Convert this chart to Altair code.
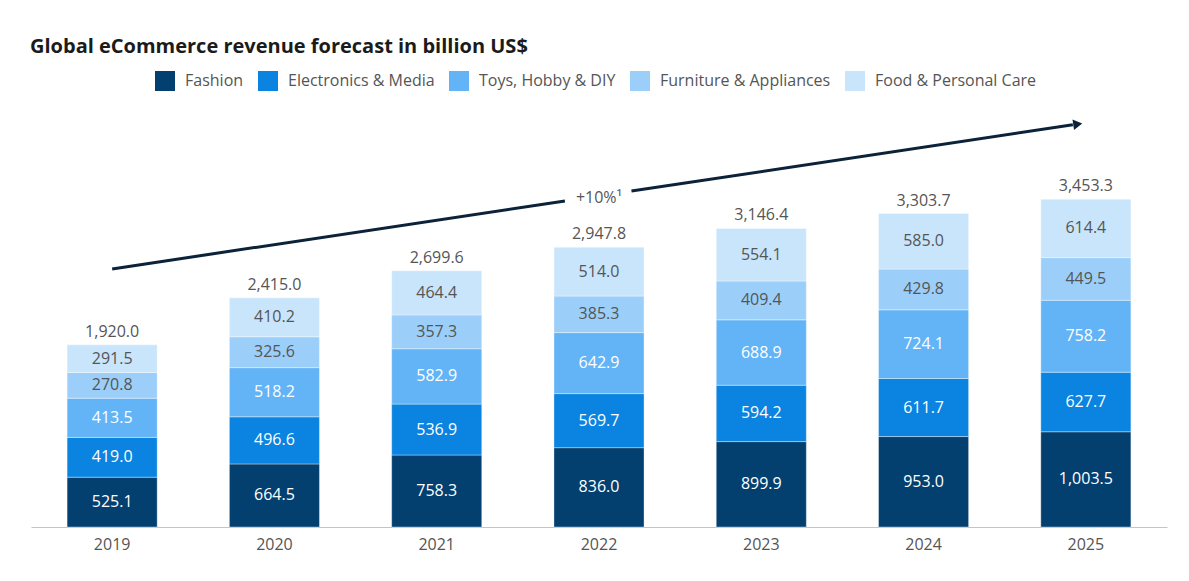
import altair as alt
import pandas as pd

years = ["2019", "2020", "2021", "2022", "2023", "2024", "2025"]
categories = ["Fashion", "Electronics & Media", "Toys, Hobby & DIY",
              "Furniture & Appliances", "Food & Personal Care"]
fashion = [525.1, 664.5, 758.3, 836.0, 899.9, 953.0, 1003.5]
electronics = [419.0, 496.6, 536.9, 569.7, 594.2, 611.7, 627.7]
toys = [413.5, 518.2, 582.9, 642.9, 688.9, 724.1, 758.2]
furniture = [270.8, 325.6, 357.3, 385.3, 409.4, 429.8, 449.5]
food = [291.5, 410.2, 464.4, 514.0, 554.1, 585.0, 614.4]
totals = [1920.0, 2415.0, 2699.6, 2947.8, 3146.4, 3303.7, 3453.3]
colors = ["#033f6f", "#0a84e0", "#63b4f6", "#9bcffa", "#c9e5fc"]
label_colors = ["white", "white", "white", "#555555", "#555555"]

# trend arrow (band-index units on x, value units on y)
arrow_x1 = [0.5, 3.70]
arrow_x2 = [3.29, 6.42]
arrow_y1 = [2720, 3540]
arrow_y2 = [3435, 4240]
arrow_tip_x = [6.45]
arrow_tip_y = [4246]
arrow_label = ["+10%\u00b9"]
arrow_label_x = [3.5]
arrow_label_y = [3465]

series = [fashion, electronics, toys, furniture, food]
rows = []
for yi, yr in enumerate(years):
    base = 0.0
    for ci, cat in enumerate(categories):
        v = series[ci][yi]
        rows.append({"year": yr, "cat": cat, "order": ci, "value": v,
                     "y0": base, "y1": base + v, "mid": base + v / 2,
                     "lc": label_colors[ci]})
        base += v
df = pd.DataFrame(rows)
tot = pd.DataFrame({"year": years, "total": totals})
arr = pd.DataFrame({"x1": arrow_x1, "x2": arrow_x2, "y1": arrow_y1, "y2": arrow_y2})
tip = pd.DataFrame({"x": arrow_tip_x, "y": arrow_tip_y})
lab = pd.DataFrame({"x": arrow_label_x, "y": arrow_label_y, "t": arrow_label})

FONT = "Open Sans"
yscale = alt.Scale(domain=[0, 4500], nice=False, zero=True)
xscale = alt.Scale(domain=years, paddingInner=0.445, paddingOuter=0.2225)

xenc = alt.X("year:N", scale=xscale, sort=years,
             axis=alt.Axis(title=None, labelAngle=0, ticks=False, domainColor="#c4c4c4",
                           domainWidth=1, labelFontSize=16, labelColor="#555555",
                           labelFont=FONT, labelPadding=9, grid=False))

bars = alt.Chart(df).mark_bar(stroke="white", strokeWidth=0.6, strokeOpacity=0.6).encode(
    x=xenc,
    y=alt.Y("y0:Q", scale=yscale, axis=None),
    y2="y1:Q",
    color=alt.Color("cat:N", sort=categories,
                    scale=alt.Scale(domain=categories, range=colors),
                    legend=alt.Legend(title=None, orient="none", direction="horizontal",
                                      legendX=124, legendY=-29, columns=5,
                                      symbolType="square", symbolSize=400,
                                      symbolStrokeWidth=0, symbolOpacity=1,
                                      labelFontSize=16, labelFont=FONT,
                                      labelColor="#555555", labelOffset=10,
                                      columnPadding=14, labelLimit=400)),
)

labels = alt.Chart(df).mark_text(fontSize=16, font=FONT, baseline="middle").encode(
    x=alt.X("year:N", scale=xscale, sort=years),
    y=alt.Y("mid:Q", scale=yscale),
    text=alt.Text("value:Q", format=",.1f"),
    color=alt.Color("lc:N", scale=None),
)

total_labels = alt.Chart(tot).mark_text(fontSize=16, font=FONT, baseline="bottom",
                                        color="#555555", dy=-5).encode(
    x=alt.X("year:N", scale=xscale, sort=years),
    y=alt.Y("total:Q", scale=yscale),
    text=alt.Text("total:Q", format=",.1f"),
)

base_layer = alt.layer(bars, labels, total_labels)

qx = alt.Scale(domain=[0, 7], nice=False, zero=False)
segs = alt.Chart(arr).mark_rule(color="#0b2239", strokeWidth=3).encode(
    x=alt.X("x1:Q", scale=qx, axis=None),
    x2="x2:Q",
    y=alt.Y("y1:Q", scale=yscale),
    y2="y2:Q",
)
head = alt.Chart(tip).mark_point(shape="triangle-right", filled=True, size=110,
                                 color="#0b2239", opacity=1, angle=351.5).encode(
    x=alt.X("x:Q", scale=qx, axis=None),
    y=alt.Y("y:Q", scale=yscale),
)
alabel = alt.Chart(lab).mark_text(fontSize=16, font=FONT, color="#555555",
                                  baseline="middle").encode(
    x=alt.X("x:Q", scale=qx, axis=None),
    y=alt.Y("y:Q", scale=yscale),
    text="t:N",
)
arrow_layer = alt.layer(segs, head, alabel)

chart = alt.layer(base_layer, arrow_layer).resolve_scale(x="independent").properties(
    width=1136, height=427,
    title=alt.TitleParams("Global eCommerce revenue forecast in billion US$",
                          anchor="start", font=FONT, fontSize=20, fontWeight="bold",
                          color="#1b1b1b", offset=14, dx=-1),
    autosize=alt.AutoSizeParams(type="none"),
    padding={"left": 23, "top": 92, "right": 14, "bottom": 40},
).configure_view(stroke=None)

chart.save("out.html", embed_options={"renderer": "svg", "actions": False})
